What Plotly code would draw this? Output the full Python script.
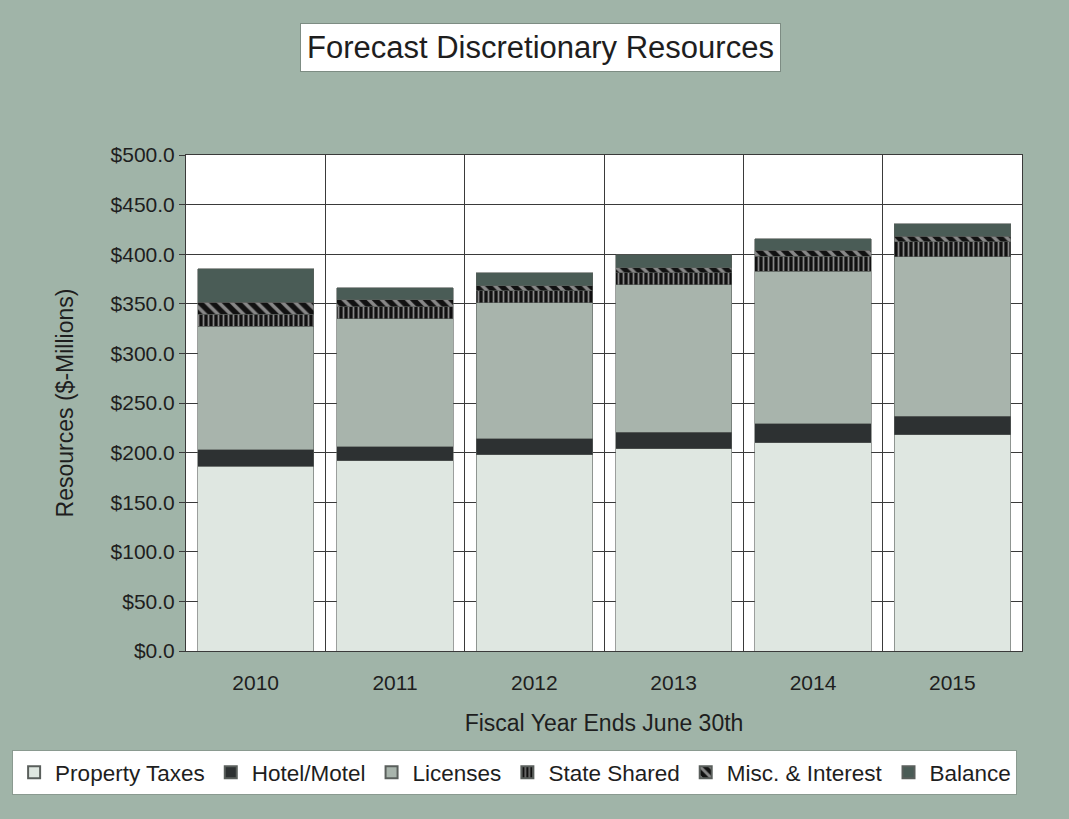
import plotly.graph_objects as go

# Fiscal years and resource components ($ millions)
years = ["2010", "2011", "2012", "2013", "2014", "2015"]
property_taxes = [186, 192, 198, 204, 210, 218]
hotel_motel = [17, 14, 16, 16.5, 19, 18.5]
licenses = [124.5, 129, 137, 148.5, 154, 161]
state_shared = [12, 12, 12, 12.5, 15, 15]
misc_interest = [12, 7, 5, 5, 6, 5.5]
balance = [34, 12, 13.5, 13, 11.5, 12.5]

y_ticks = [0, 50, 100, 150, 200, 250, 300, 350, 400, 450, 500]
y_tick_text = [f"${v:.1f}" for v in y_ticks]

FONT = "Liberation Sans, Arial, sans-serif"
INK = "#1e1e1e"
edge = dict(color="#5a5f5c", width=0.6)

fig = go.Figure()
fig.add_trace(go.Bar(name="Property Taxes", x=years, y=property_taxes,
                     marker=dict(color="#dfe7e1", line=edge)))
fig.add_trace(go.Bar(name="Hotel/Motel", x=years, y=hotel_motel,
                     marker=dict(color="#2d3132", line=edge)))
fig.add_trace(go.Bar(name="Licenses", x=years, y=licenses,
                     marker=dict(color="#a8b4ac", line=edge)))
fig.add_trace(go.Bar(name="State Shared", x=years, y=state_shared,
                     marker=dict(color="#111111", line=edge,
                                 pattern=dict(shape="|", fgcolor="#ffffff",
                                              size=5, solidity=0.35))))
fig.add_trace(go.Bar(name="Misc. & Interest", x=years, y=misc_interest,
                     marker=dict(color="#111111", line=edge,
                                 pattern=dict(shape="\\", fgcolor="#ffffff",
                                              size=9, solidity=0.4))))
fig.add_trace(go.Bar(name="Balance", x=years, y=balance,
                     marker=dict(color="#4a5c56", line=edge)))

fig.update_layout(
    width=1069, height=819,
    barmode="stack", bargap=0.165,
    paper_bgcolor="#a0b4a8", plot_bgcolor="#ffffff",
    margin=dict(l=182, r=47, t=155, b=168),
    font=dict(family=FONT, color=INK, size=21),
    showlegend=True,
    legend=dict(orientation="h", x=-0.208, xanchor="left", y=-0.2, yanchor="top",
                bgcolor="#ffffff", bordercolor="#8a9a90", borderwidth=1,
                font=dict(size=22.5, color=INK), traceorder="normal",
                itemsizing="constant", itemwidth=32, tracegroupgap=0),
    xaxis=dict(
        type="category", tickson="boundaries",
        showgrid=True, gridcolor="#3a3a3a", gridwidth=1,
        showline=True, linecolor="#3a3a3a", linewidth=1, mirror=True,
        ticks="", ticklabelstandoff=13, tickfont=dict(size=21, color=INK),
        title=dict(text="Fiscal Year Ends June 30th", standoff=21,
                   font=dict(size=23, color=INK)),
    ),
    yaxis=dict(
        range=[0, 500], tickmode="array", tickvals=y_ticks, ticktext=y_tick_text,
        showgrid=True, gridcolor="#3a3a3a", gridwidth=1,
        showline=True, linecolor="#3a3a3a", linewidth=1, mirror=True,
        ticks="outside", ticklen=6, tickcolor="#3a3a3a",
        tickfont=dict(size=21, color=INK), zeroline=False,
        title=dict(text="Resources ($-Millions)", standoff=30,
                   font=dict(size=23, color=INK)),
    ),
    annotations=[dict(
        text="Forecast Discretionary Resources", xref="paper", yref="paper",
        x=0.424, y=1.216, xanchor="center", yanchor="middle", showarrow=False,
        font=dict(size=31, color=INK, family=FONT),
        bgcolor="#ffffff", bordercolor="#7d8c83", borderwidth=1, borderpad=6,
    )],
)

fig.write_html("out.html")
